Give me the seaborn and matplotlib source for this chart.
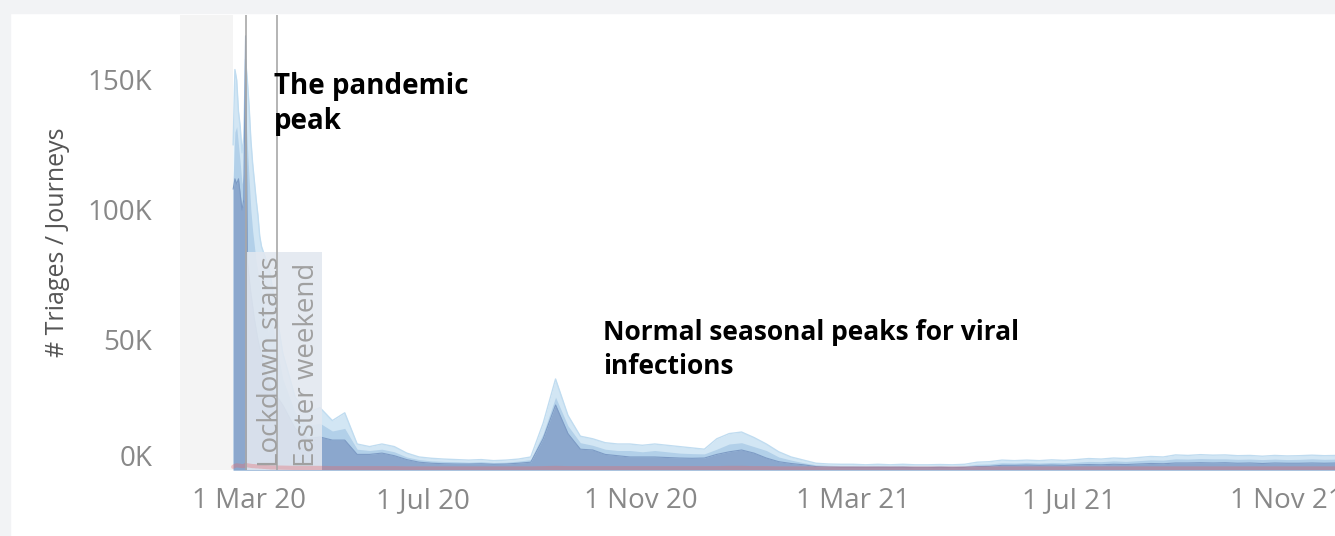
import pandas as pd
import seaborn as sns
import matplotlib.pyplot as plt
import matplotlib.dates as mdates
from matplotlib.patches import Rectangle
from matplotlib.transforms import ScaledTranslation

# Data (values in thousands) - daily for the first weeks, weekly afterwards
early_start, early_end = "2020-03-16", "2020-04-05"
weekly_start, weekly_end = "2020-04-06", "2021-11-29"

early_light = [125, 154, 150, 138, 132, 122, 128, 158, 150, 140, 127, 118, 111, 104,
               98, 90, 86, 84, 82, 80, 78]
early_mid = [112, 130, 132, 125, 118, 110, 114, 140, 125, 112, 100, 92, 86, 80,
             76, 72, 68, 64, 60, 56, 52]
early_dark = [108, 112, 110, 112, 106, 100, 104, 167, 80, 74, 68, 63, 58, 54,
              50, 47, 44, 41, 38, 36, 34]
early_red = [1.2, 1.6, 1.8, 1.7, 1.6, 1.5, 1.5, 1.9, 1.8, 1.7, 1.6, 1.5, 1.5, 1.4,
             1.4, 1.3, 1.3, 1.2, 1.2, 1.1, 1.1]

weekly_light = [75, 45, 28, 22, 24, 19, 22, 10, 9, 10, 9, 6.5, 5, 4.5, 4.2, 4, 3.8, 4, 3.6, 3.8,
                4.2, 5, 18, 35, 21, 13, 12, 10.5, 10, 10, 9.5, 10, 9.5, 9, 8.5, 8, 12, 14, 14.6, 12.5,
                10, 7, 5, 3.8, 2.6, 2.3, 2.2, 2.2, 2.0, 2.2, 2.0, 2.2, 2.0, 2.0, 2.1, 2.0, 2.2, 3.0,
                3.2, 3.8, 3.6, 3.8, 3.6, 3.9, 3.7, 4.0, 4.4, 4.2, 4.6, 4.4, 4.8, 5.2, 5.0, 5.8, 5.6,
                5.9, 5.7, 5.8, 5.5, 5.6, 5.3, 5.6, 5.4, 5.5, 5.7, 5.5, 5.6]
weekly_mid = [60, 35, 22, 17, 18, 15, 16, 8, 7.5, 8, 7, 5, 4, 3.5, 3.3, 3.2, 3, 3.2, 2.9, 3,
              3.4, 4, 14, 28, 17, 10.5, 9.5, 8, 7.5, 7.5, 7, 7.5, 7, 6.5, 6.3, 6.2, 8, 10, 10.5, 9,
              7.5, 5, 3.8, 2.8, 2, 1.8, 1.7, 1.7, 1.6, 1.7, 1.6, 1.7, 1.5, 1.5, 1.6, 1.5, 1.6, 2.2,
              2.3, 2.8, 2.7, 2.9, 2.7, 2.9, 2.8, 3.0, 3.3, 3.2, 3.5, 3.3, 3.6, 3.9, 3.8, 4.3, 4.2,
              4.4, 4.3, 4.3, 4.1, 4.2, 4.0, 4.2, 4.0, 4.1, 4.3, 4.1, 4.2]
weekly_dark = [32, 25, 16, 12, 12.7, 11.5, 11.5, 6, 6, 6.5, 5.5, 4, 3, 2.6, 2.4, 2.3, 2.3, 2.4, 2.2, 2.3,
               2.6, 3, 12, 25, 14, 8, 7.7, 6, 5.5, 5, 5, 5, 4.8, 4.6, 4.5, 4.6, 6, 7, 7.7, 6.5,
               4.6, 3.2, 2.5, 2, 1.3, 1.1, 1.0, 1.0, 1.0, 1.0, 1.0, 1.0, 0.9, 0.9, 1.0, 0.9, 1.0, 1.3,
               1.4, 1.8, 1.8, 1.9, 1.8, 1.9, 1.8, 2.0, 2.1, 2.0, 2.2, 2.1, 2.3, 2.5, 2.4, 2.7, 2.7,
               2.8, 2.7, 2.8, 2.6, 2.7, 2.5, 2.7, 2.6, 2.6, 2.7, 2.6, 2.7]
weekly_red = [1.0, 0.9, 0.8, 0.8, 0.8, 0.7, 0.7, 0.7, 0.7, 0.7, 0.7, 0.6, 0.6, 0.6, 0.6, 0.6, 0.6, 0.6,
              0.6, 0.6, 0.6, 0.6, 0.7, 0.8, 0.7, 0.7, 0.7, 0.7, 0.7, 0.7, 0.7, 0.7, 0.7, 0.7, 0.7,
              0.7, 0.7, 0.8, 0.8, 0.7, 0.7, 0.6, 0.6, 0.6, 0.6, 0.6, 0.6, 0.6, 0.6, 0.6, 0.6, 0.6,
              0.6, 0.6, 0.6, 0.6, 0.6, 0.6, 0.6, 0.6, 0.6, 0.6, 0.6, 0.6, 0.6, 0.6, 0.6, 0.6, 0.6,
              0.6, 0.6, 0.6, 0.6, 0.6, 0.6, 0.6, 0.6, 0.6, 0.6, 0.6, 0.6, 0.6, 0.6, 0.6, 0.6, 0.6, 0.6]

events = {"Lockdown starts": "2020-03-23", "Easter weekend": "2020-04-10"}
event_offsets = {"Lockdown starts": 8, "Easter weekend": 11}
lockdown_band = ("2020-03-24", "2020-05-05", 84)

tick_dates = ["2020-03-01", "2020-07-01", "2020-11-01", "2021-03-01", "2021-07-01", "2021-11-01"]
tick_labels = ["1 Mar 20", "1 Jul 20", "1 Nov 20", "1 Mar 21", "1 Jul 21", "1 Nov 21"]
y_ticks = [0, 50, 100, 150]
y_labels = ["0K", "50K", "100K", "150K"]

# Build table
dates = pd.date_range(early_start, early_end, freq="D").append(
    pd.date_range(weekly_start, weekly_end, freq="7D"))
df = pd.DataFrame({
    "x": mdates.date2num(dates),
    "light": early_light + weekly_light,
    "mid": early_mid + weekly_mid,
    "dark": early_dark + weekly_dark,
    "red": early_red + weekly_red,
})

sns.set_style("white")
plt.rcParams["font.family"] = ["Open Sans", "DejaVu Sans"]

fig = plt.figure(figsize=(13.35, 5.36), dpi=100)
fig.patches.append(Rectangle((0, 1 - 13 / 536), 1, 13 / 536, transform=fig.transFigure,
                             color="#f2f3f5", zorder=0))
fig.patches.append(Rectangle((0, 0), 10 / 1335, 1, transform=fig.transFigure,
                             color="#f2f3f5", zorder=0))
ax = fig.add_axes([180 / 1335, 66 / 536, 1155 / 1335, 455 / 536])

x0 = mdates.date2num(pd.Timestamp("2020-02-15"))
x1 = mdates.date2num(pd.Timestamp("2021-11-28"))
ax.axvspan(x0, df["x"].iloc[0], color="#f4f4f4", lw=0, zorder=0)

# layered areas
ax.fill_between(df["x"], df["light"], color="#d2e6f4", lw=0, zorder=1)
sns.lineplot(data=df, x="x", y="light", ax=ax, color="#c0dcf0", lw=1, zorder=1)
ax.fill_between(df["x"], df["mid"], color="#b2d0e9", lw=0, zorder=2)
ax.fill_between(df["x"], df["dark"], color="#8ba7cd", lw=0, zorder=3)
sns.lineplot(data=df, x="x", y="dark", ax=ax, color="#7d9bc5", lw=0.8, zorder=3)

b0, b1, bh = lockdown_band
ax.fill_between([mdates.date2num(pd.Timestamp(b0)), mdates.date2num(pd.Timestamp(b1))],
                [bh, bh], color="#e2e8f0", alpha=0.88, lw=0, zorder=4)

sns.lineplot(data=df, x="x", y="red", ax=ax, color="#e8696b", lw=3, alpha=0.35, zorder=5)

for label, d in events.items():
    xd = mdates.date2num(pd.Timestamp(d))
    ax.axvline(xd, color="#a8a8a8", lw=1.2, zorder=6)
    ax.annotate(label, xy=(xd, 0), xytext=(event_offsets[label], 2), textcoords="offset points",
                rotation=90, ha="left", va="bottom", fontsize=20, color="#a0a0a0",
                zorder=7)

ax.text(mdates.date2num(pd.Timestamp("2020-04-08")), 153, "The pandemic\npeak",
        fontsize=20, fontweight="bold", color="black", va="top", ha="left",
        linespacing=1.25, zorder=8)
ax.text(mdates.date2num(pd.Timestamp("2020-10-11")), 58, "Normal seasonal peaks for viral\ninfections",
        fontsize=19, fontweight="bold", color="black", va="top", ha="left",
        linespacing=1.3, zorder=8)

ax.set_xlim(x0, x1)
ax.set_ylim(0, 175)
ax.set_xticks(mdates.date2num(pd.to_datetime(tick_dates)))
ax.set_xticklabels(tick_labels, fontsize=20, color="#888888")
ax.set_yticks(y_ticks)
ax.set_yticklabels(y_labels, fontsize=20, color="#888888")
ax.tick_params(length=0, pad=20)
ax.tick_params(axis="x", pad=12)
ax.set_xlabel("")
ax.set_ylabel("# Triages / Journeys", fontsize=18, color="#555555", labelpad=13)
sns.despine(ax=ax, left=True, bottom=True)

# Tableau keeps the edge labels inside the pane
xl = ax.get_xticklabels()[0]
xl.set_transform(xl.get_transform() + ScaledTranslation(0.42, 0, fig.dpi_scale_trans))
yl = ax.get_yticklabels()[0]
yl.set_transform(yl.get_transform() + ScaledTranslation(0, 0.15, fig.dpi_scale_trans))

fig.savefig("out.png", dpi=100, facecolor="white")
